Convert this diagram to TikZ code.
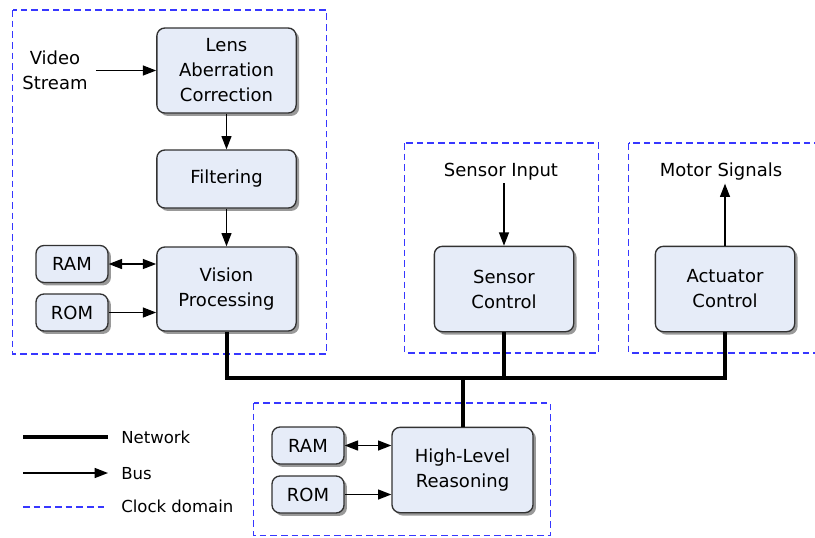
\documentclass[tikz,border=0pt]{standalone}
\usepackage{fontspec}
\setmainfont{DejaVu Sans}
\usetikzlibrary{arrows.meta,shadows}

\definecolor{boxfill}{RGB}{230,236,248}
\definecolor{boxline}{RGB}{50,50,50}
\definecolor{domainblue}{RGB}{55,55,255}

\tikzset{
  block/.style={draw=boxline, line width=1pt, fill=boxfill, rounded corners=6pt,
    align=center, inner sep=2pt,
    font=\fontsize{13.5}{18.75}\selectfont,
    drop shadow={shadow xshift=2.2pt, shadow yshift=-2.2pt, fill=black, opacity=0.4}},
  bigblock/.style={block, minimum width=104.5pt, minimum height=64pt},
  memblock/.style={block, minimum width=54pt, minimum height=27.75pt},
  plaintext/.style={align=center, inner sep=2pt, font=\fontsize{13.5}{18.75}\selectfont},
  legendtext/.style={anchor=base west, inner sep=0pt, font=\fontsize{12.4}{15}\selectfont},
  tip/.tip={Triangle[length=10pt,width=7.5pt]},
  bus/.style={line width=1pt, -tip},
  bibus/.style={line width=1pt, tip-tip},
  network/.style={line width=3pt, line join=miter},
  clockdomain/.style={draw=domainblue, line width=1pt, dash pattern=on 5pt off 3pt}
}

\begin{document}
\begin{tikzpicture}[x=0.75pt,y=-0.75pt]
  \clip (0,0) rectangle (815,537);

  % clock domains
  \draw[clockdomain] (12.5,10) rectangle (326.5,354);
  \draw[clockdomain] (404.5,143) rectangle (598.5,353);
  \draw[clockdomain] (628.5,143) rectangle (840,353);
  \draw[clockdomain] (253.5,403) rectangle (550.5,535.5);

  % vision pipeline
  \node[bigblock, minimum height=63.75pt] (lens) at (226.5,70.5) {Lens\\Aberration\\Correction};
  \node[bigblock, minimum height=43.5pt] (filter) at (226.5,179) {Filtering};
  \node[bigblock, minimum height=63pt] (vision) at (226.5,289) {Vision\\Processing};
  \node[memblock] (ram1) at (72,264) {RAM};
  \node[memblock] (rom1) at (72,312.5) {ROM};
  \node[plaintext, inner sep=6pt] (video) at (55,70) {Video\\Stream};

  % sensor and actuator
  \node[bigblock] (sensor) at (504,289) {Sensor\\Control};
  \node[bigblock] (actuator) at (725,289) {Actuator\\Control};
  \node[plaintext] (sensin) at (501,172) {Sensor Input};
  \node[plaintext] (motor) at (721,172) {Motor Signals};

  % reasoning
  \node[bigblock, minimum width=105.75pt] (high) at (462.5,470) {High-Level\\Reasoning};
  \node[memblock] (ram2) at (308,445.5) {RAM};
  \node[memblock] (rom2) at (308,494.5) {ROM};

  % buses
  \draw[bus] (video.east |- lens.west) -- (lens.west);
  \draw[bus] (lens) -- (filter);
  \draw[bus] (filter) -- (vision);
  \draw[bibus] (ram1.east) -- (vision.west |- ram1.east);
  \draw[bus] (rom1.east) -- (vision.west |- rom1.east);
  \draw[bus] (sensin.south -| sensor.north) -- (sensor.north);
  \draw[bus] (actuator.north) -- (motor.south -| actuator.north);
  \draw[bibus] (ram2.east) -- (high.west |- ram2.east);
  \draw[bus] (rom2.east) -- (high.west |- rom2.east);

  % network
  \coordinate (netrow) at (0,378);
  \draw[network] (vision.south) -- (vision.south |- netrow)
    -- (actuator.south |- netrow) -- (actuator.south);
  \draw[network] (sensor.south) -- (sensor.south |- netrow);
  \draw[network] (high.north) -- (high.north |- netrow);

  % legend
  \coordinate (lgA1) at (23,437); \coordinate (lgA2) at (108,437);
  \coordinate (lgB1) at (23,473); \coordinate (lgB2) at (108,473);
  \coordinate (lgC1) at (23,507); \coordinate (lgC2) at (105,507);
  \draw[network] (lgA1) -- (lgA2);
  \draw[bus] (lgB1) -- (lgB2);
  \draw[clockdomain] (lgC1) -- (lgC2);
  \node[legendtext] (lgnet) at (121,443) {Network};
  \node[legendtext] (lgbus) at (121,479) {Bus};
  \node[legendtext] (lgclk) at (121,512) {Clock domain};
\end{tikzpicture}
\end{document}
